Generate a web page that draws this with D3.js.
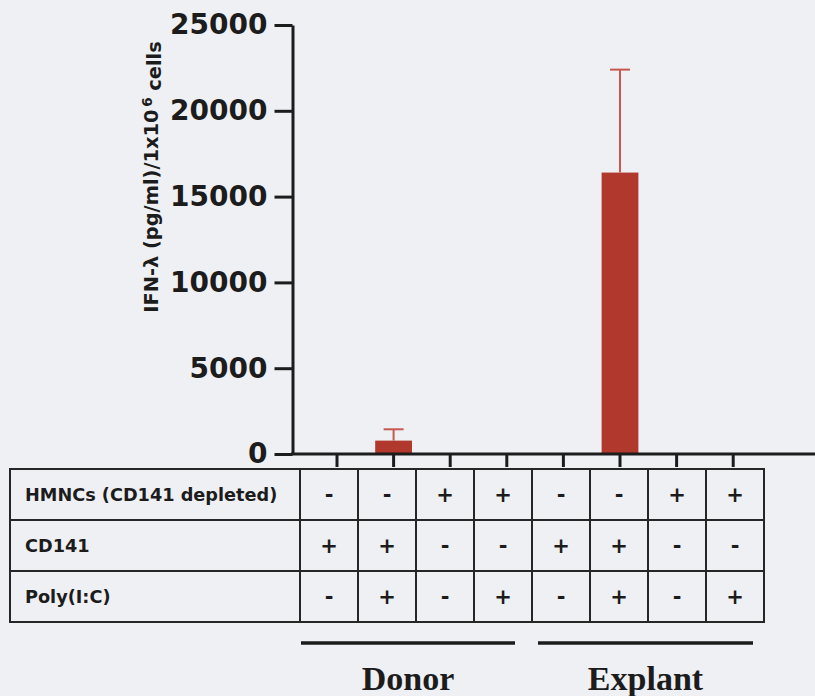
<!DOCTYPE html>
<html>
<head>
<meta charset="utf-8">
<script src="https://cdn.jsdelivr.net/npm/d3@7"></script>
<style>
  html, body { margin: 0; padding: 0; background: #eff0f4; }
  svg { display: block; }
</style>
</head>
<body>
<svg id="chart" width="815" height="696"></svg>
<script>
// Conditions (one bar per column of the table)
const conditions = ["c1", "c2", "c3", "c4", "c5", "c6", "c7", "c8"];
const groups = ["Donor", "Donor", "Donor", "Donor", "Explant", "Explant", "Explant", "Explant"];
const groupNames = ["Donor", "Explant"];
// IFN-λ (pg/ml per 1x10^6 cells): mean and upper error (SEM)
const values = [0, 780, 0, 0, 0, 16400, 0, 0];
const errors = [0, 660, 0, 0, 0, 6000, 0, 0];
const yTicks = [0, 5000, 10000, 15000, 20000, 25000];
// Treatment table
const rowLabels = ["HMNCs (CD141 depleted)", "CD141", "Poly(I:C)"];
const hmncs = ["-", "-", "+", "+", "-", "-", "+", "+"];
const cd141 = ["+", "+", "-", "-", "+", "+", "-", "-"];
const polyIC = ["-", "+", "-", "+", "-", "+", "-", "+"];

const svg = d3.select("#chart");
const W = 815;
const sans = "'DejaVu Sans', sans-serif";
const serif = "'Liberation Serif', 'Times New Roman', serif";
const ink = "#1c1c1c";
const barColor = "#b0382c";
const errColor = "#c45a4f";

const axisX = 292.5;
const y = d3.scaleLinear().domain([0, 25000]).range([454, 25]);
const x = d3.scaleBand().domain(conditions).range([308.7, 761.5])
  .paddingInner(0.35).paddingOuter(0.175);

const bars = conditions.map((c, i) => ({ c, v: values[i], e: errors[i] }));

// Bars
svg.append("g").selectAll("rect")
  .data(bars.filter(d => d.v > 0))
  .join("rect")
  .attr("x", d => x(d.c))
  .attr("width", x.bandwidth())
  .attr("y", d => y(d.v))
  .attr("height", d => y(0) - y(d.v))
  .attr("fill", barColor);

// Upper error bars
const eb = svg.append("g").attr("stroke", errColor).attr("stroke-width", 2)
  .selectAll("g")
  .data(bars.filter(d => d.e > 0))
  .join("g");
eb.append("line")
  .attr("x1", d => x(d.c) + x.bandwidth() / 2)
  .attr("x2", d => x(d.c) + x.bandwidth() / 2)
  .attr("y1", d => y(d.v))
  .attr("y2", d => y(d.v + d.e));
eb.append("line")
  .attr("x1", d => x(d.c) + x.bandwidth() / 2 - 10)
  .attr("x2", d => x(d.c) + x.bandwidth() / 2 + 10)
  .attr("y1", d => y(d.v + d.e))
  .attr("y2", d => y(d.v + d.e));

// Y axis
const yAxis = svg.append("g")
  .attr("transform", `translate(${axisX},0)`)
  .call(d3.axisLeft(y).tickValues(yTicks).tickFormat(d3.format("d"))
    .tickSize(18).tickSizeOuter(0).tickPadding(7));
yAxis.select(".domain").attr("stroke", ink).attr("stroke-width", 3);
yAxis.selectAll(".tick line").attr("stroke", ink).attr("stroke-width", 3);
yAxis.selectAll(".tick text")
  .attr("fill", ink)
  .style("font-family", sans).style("font-weight", "bold").style("font-size", "28px");

// X axis (ticks only; baseline runs to the right edge)
const xAxis = svg.append("g")
  .attr("transform", `translate(0,${y(0)})`)
  .call(d3.axisBottom(x).tickSize(13).tickFormat(""));
xAxis.select(".domain").remove();
xAxis.selectAll(".tick line").attr("stroke", ink).attr("stroke-width", 3);
svg.append("line")
  .attr("x1", axisX - 1.5).attr("x2", W)
  .attr("y1", y(0)).attr("y2", y(0))
  .attr("stroke", ink).attr("stroke-width", 3);

// Y axis title
const yTitle = svg.append("text")
  .attr("transform", "translate(158,177) rotate(-90)")
  .attr("text-anchor", "middle")
  .attr("fill", ink)
  .style("font-family", sans).style("font-weight", "bold").style("font-size", "19.4px");
yTitle.append("tspan").text("IFN-λ (pg/ml)/1x10");
yTitle.append("tspan").attr("dy", "-0.45em").attr("dx", "0.2em").style("font-size", "13.5px").text("6");
yTitle.append("tspan").attr("dy", "0.45em").text(" cells");

// Treatment table
const tableLeft = 10, labelRight = 300, tableRight = 764;
const col = d3.scaleBand().domain(conditions).range([labelRight, tableRight]);
const row = d3.scaleBand().domain(rowLabels).range([469, 622]);
const table = svg.append("g").attr("stroke", "#262626").attr("stroke-width", 2).attr("fill", "none");
table.append("rect")
  .attr("x", tableLeft).attr("y", row.range()[0])
  .attr("width", tableRight - tableLeft).attr("height", row.range()[1] - row.range()[0]);
table.selectAll("line.h").data(rowLabels.slice(1)).join("line")
  .attr("class", "h")
  .attr("x1", tableLeft).attr("x2", tableRight)
  .attr("y1", d => row(d)).attr("y2", d => row(d));
table.selectAll("line.v").data(conditions).join("line")
  .attr("class", "v")
  .attr("x1", d => col(d)).attr("x2", d => col(d))
  .attr("y1", row.range()[0]).attr("y2", row.range()[1]);

svg.append("g").selectAll("text").data(rowLabels).join("text")
  .attr("x", 25)
  .attr("y", d => row(d) + row.bandwidth() / 2)
  .attr("dy", "0.36em")
  .attr("fill", ink)
  .style("font-family", sans).style("font-weight", "bold").style("font-size", "17.7px")
  .text(d => d);

const signRows = [hmncs, cd141, polyIC];
const cells = [];
signRows.forEach((arr, r) => arr.forEach((s, i) => cells.push({ r: rowLabels[r], c: conditions[i], s })));
svg.append("g").selectAll("text").data(cells).join("text")
  .attr("x", d => col(d.c) + col.bandwidth() / 2)
  .attr("y", d => row(d.r) + row.bandwidth() / 2)
  .attr("dy", "0.34em")
  .attr("text-anchor", "middle")
  .attr("fill", ink)
  .style("font-family", sans).style("font-weight", "bold").style("font-size", "21px")
  .text(d => d.s);

// Group brackets and names
const groupSpans = [[301, 515], [538, 753]];
const gg = svg.append("g").selectAll("g").data(groupNames).join("g");
gg.append("line")
  .attr("x1", (d, i) => groupSpans[i][0]).attr("x2", (d, i) => groupSpans[i][1])
  .attr("y1", 643).attr("y2", 643)
  .attr("stroke", ink).attr("stroke-width", 3.5);
gg.append("text")
  .attr("x", (d, i) => (groupSpans[i][0] + groupSpans[i][1]) / 2)
  .attr("y", 690)
  .attr("text-anchor", "middle")
  .attr("fill", ink)
  .style("font-family", serif).style("font-weight", "bold").style("font-size", "34px")
  .text(d => d);
</script>
</body>
</html>
